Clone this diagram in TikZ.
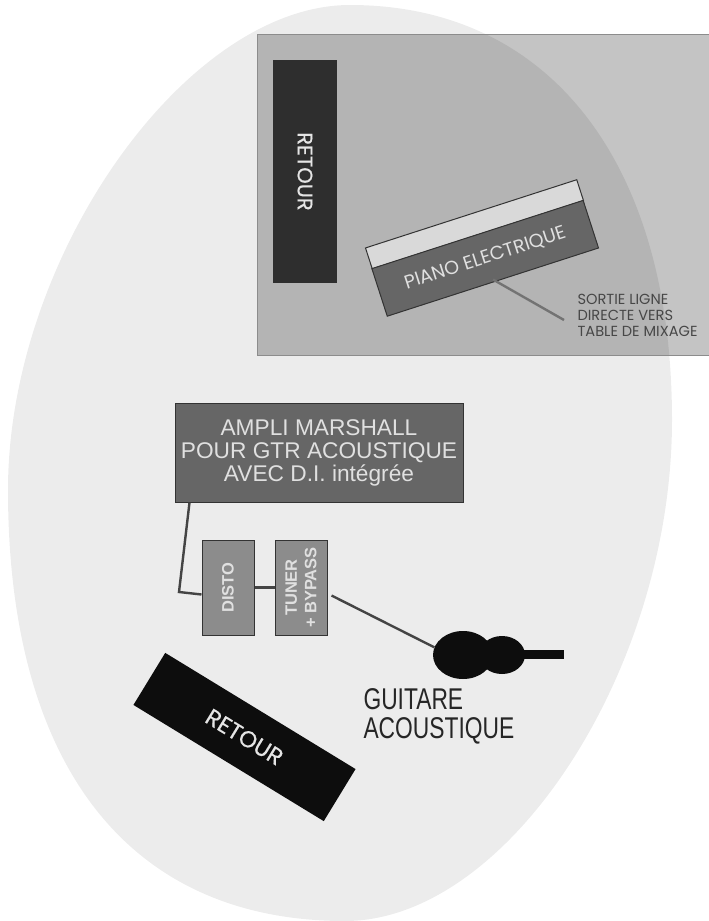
\documentclass[tikz,border=0pt]{standalone}
\usepackage{fontspec}
\setmainfont{Liberation Sans}
\newfontfamily\roundfont{Poppins}
\newfontfamily\wedgefont[FakeBold=0.5]{Poppins}
\newfontfamily\gtrfont[FakeStretch=0.76]{Liberation Sans}
\usetikzlibrary{calc,shapes.geometric}

\definecolor{stagegray}{HTML}{ECECEC}
\definecolor{zonegray}{HTML}{C4C4C4}
\definecolor{overlapgray}{HTML}{B4B4B4}
\definecolor{ampgray}{HTML}{666666}
\definecolor{pedalgray}{HTML}{8C8C8C}
\definecolor{wiregray}{HTML}{444444}

\newcommand*{\xmax}{709}
\newcommand*{\ymax}{921}
\newcommand*{\stageoutline}{(350,5) .. controls (550,5) and (672,163) .. (672,420) .. controls (672,670) and (508,921) .. (345,921) .. controls (129,921) and (8,766) .. (8,490) .. controls (8,257) and (186,5) .. (350,5) -- cycle}

\begin{document}
\begin{tikzpicture}
[
	x=1pt,y=-1pt,
	box/.style={draw=black!80,line width=1pt,inner sep=0pt,align=center,text=white!88!black},
	pedal/.style={box,fill=pedalgray,minimum width=95pt,minimum height=52pt,rotate=90,font=\bfseries\fontsize{16.5}{19.5}\selectfont},
	wedge/.style={fill=black!95,inner sep=0pt,text=white!90!black},
	wire/.style={draw=wiregray,line width=2.4pt},
	shell/.style={ellipse,fill=black!95,inner sep=0pt}
]

	\useasboundingbox (0,0) rectangle (\xmax,\ymax);

	% stage and keyboard zone
	\fill[stagegray] \stageoutline;
	\fill[zonegray] (257,34) rectangle (\xmax,355);
	\begin{scope}
		\clip (257,34) rectangle (\xmax,355);
		\fill[overlapgray] \stageoutline;
	\end{scope}
	\draw[black!45,line width=0.8pt] (257,34) -- (\xmax,34);
	\draw[black!45,line width=0.8pt] (257,34) -- (257,355) -- (\xmax,355);

	% wedges
	\node[wedge,fill=black!82,minimum width=223pt,minimum height=64pt,rotate=-90,font=\wedgefont\fontsize{21}{24}\selectfont] at (305,171.5) (retourtop) {RETOUR};
	\node[wedge,minimum width=223pt,minimum height=61pt,rotate=-31.4,font=\wedgefont\fontsize{23}{26}\selectfont] at (244.5,737) (retourlow) {RETOUR};

	% piano
	\node[box,fill=white!85!black,minimum width=222pt,minimum height=22pt,rotate=17.9] at (474.5,224.3) (pianotop) {};
	\node[box,fill=ampgray,minimum width=222pt,minimum height=50pt,rotate=17.9,font=\roundfont\fontsize{19}{21}\selectfont] at (485.2,258.3) (piano) {PIANO ELECTRIQUE};
	\coordinate (lineout) at (564,320);
	\draw[wire,draw=black!55] ($(piano.south)+(0,-3)$) -- (lineout);
	\node[anchor=north west,align=left,text=black!72,font=\roundfont\fontsize{14.6}{16}\selectfont] at (574,291) (lineoutlabel) {SORTIE LIGNE\\DIRECTE VERS\\TABLE DE MIXAGE};

	% amp and pedals
	\node[box,fill=ampgray,minimum width=288pt,minimum height=99pt,font=\fontsize{22.7}{23}\selectfont] at (319,452.5) (ampli) {AMPLI MARSHALL\\POUR GTR ACOUSTIQUE\\AVEC D.I. intégrée};
	\node[pedal] at (228,587.5) (disto) {DISTO};
	\node[pedal] at (301,587.5) (tuner) {TUNER\\+ BYPASS};

	% guitar
	\node[shell,minimum width=60pt,minimum height=48pt] at (463,655) (guitar) {};
	\node[shell,minimum width=46pt,minimum height=38pt] at (502,655) (guitarwaist) {};
	\node[fill=black!95,inner sep=0pt,minimum width=44pt,minimum height=9.5pt] at (542,654.5) (guitarneck) {};
	\node[anchor=north west,align=left,text=black!85,font=\gtrfont\fontsize{30}{29}\selectfont] at (360,685) (guitarlabel) {GUITARE\\ACOUSTIQUE};

	% wires
	\coordinate (ampbend) at (179,592);
	\draw[wire,line join=miter] ($(ampli.south west)+(15,0)$) -- (ampbend) -- ($(disto.north)+(0,7)$);
	\draw[wire] (disto.south) -- (tuner.north);
	\draw[wire] ($(tuner.south)+(4,8)$) -- (guitar.165);

\end{tikzpicture}
\end{document}
